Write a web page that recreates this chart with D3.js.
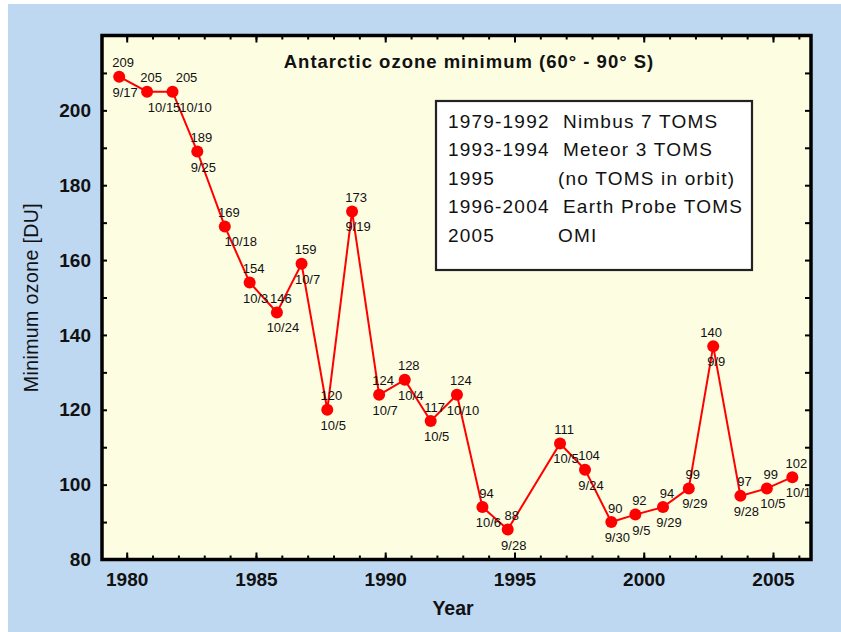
<!DOCTYPE html>
<html>
<head>
<meta charset="utf-8">
<script src="https://cdn.jsdelivr.net/npm/d3@7/dist/d3.min.js"></script>
<style>
  html, body { margin: 0; padding: 0; background: #ffffff; }
  svg { display: block; }
  text { font-family: "Liberation Sans", Arial, Helvetica, sans-serif; fill: #111; }
</style>
</head>
<body>
<svg id="chart" width="841" height="632"></svg>
<script>
// ---------------- data ----------------
const years = [1979, 1980, 1981, 1982, 1983, 1984, 1985, 1986, 1987, 1988, 1989, 1990,
               1991, 1992, 1993, 1994, 1996, 1997, 1998, 1999, 2000, 2001, 2002, 2003, 2004, 2005];
const dates = ["9/17", "10/15", "10/10", "9/25", "10/18", "10/3", "10/24", "10/7", "10/5", "9/19",
               "10/7", "10/4", "10/5", "10/10", "10/6", "9/28", "10/5", "9/24", "9/30", "9/5",
               "9/29", "9/29", "9/9", "9/28", "10/5", "10/1"];
const ozone = [209, 205, 205, 189, 169, 154, 146, 159, 120, 173, 124, 128, 117, 124, 94, 88,
               111, 104, 90, 92, 94, 99, 137, 97, 99, 102];
const valueLabels = ["209", "205", "205", "189", "169", "154", "146", "159", "120", "173", "124", "128",
                     "117", "124", "94", "88", "111", "104", "90", "92", "94", "99", "140", "97", "99", "102"];
const xTickYears = d3.range(1980, 2007);
const xLabelYears = [1980, 1985, 1990, 1995, 2000, 2005];
const yMinorTicks = d3.range(90, 220, 10);
const yLabelTicks = [80, 100, 120, 140, 160, 180, 200];
const legendPeriods = ["1979-1992", "1993-1994", "1995", "1996-2004", "2005"];
const legendInstruments = ["Nimbus 7 TOMS", "Meteor 3 TOMS", "(no TOMS in orbit)", "Earth Probe TOMS", "OMI"];
const titleText = "Antarctic ozone minimum (60\u00B0 - 90\u00B0 S)";
const xTitle = "Year";
const yTitle = "Minimum ozone [DU]";

// decimal year from the date of the minimum
function decimalYear(yr, md) {
  const [m, d] = md.split("/").map(Number);
  const dt = new Date(yr, m - 1, d);
  return yr + d3.timeDay.count(d3.timeYear(dt), dt) / 365;
}
const data = years.map((yr, i) => ({
  year: yr, date: dates[i], value: ozone[i], label: valueLabels[i],
  t: decimalYear(yr, dates[i])
}));

// ---------------- layout ----------------
const svg = d3.select("#chart");
const x = d3.scaleLinear().domain([1979.045, 2006.47]).range([102, 811]);
const y = d3.scaleLinear().domain([80, 220]).range([559.5, 35.5]);

const BLUE = "#bed8f2", YELLOW = "#fdfde1", RED = "#ff0000";

svg.append("rect").attr("x", 8).attr("y", 4).attr("width", 833).attr("height", 628).attr("fill", BLUE);
svg.append("rect")
  .attr("x", x.range()[0]).attr("y", y.range()[1])
  .attr("width", x.range()[1] - x.range()[0]).attr("height", y.range()[0] - y.range()[1])
  .attr("fill", YELLOW);

// legend box
const lg = svg.append("g");
lg.append("rect").attr("x", 436).attr("y", 101).attr("width", 316).attr("height", 169)
  .attr("fill", "#ffffff").attr("stroke", "#222").attr("stroke-width", 2.2);
legendPeriods.forEach((p, i) => {
  const by = 127.5 + i * 28.5;
  lg.append("text").attr("x", 448).attr("y", by).text(p)
    .style("font-size", "19px").style("letter-spacing", "1.2px");
  lg.append("text").attr("x", (i === 2 || i === 4) ? 558 : 563).attr("y", by).text(legendInstruments[i])
    .style("font-size", "19px").style("letter-spacing", "1.2px");
});

// title
svg.append("text").attr("x", 469).attr("y", 68).attr("text-anchor", "middle")
  .style("font-size", "18.5px").style("font-weight", "bold").style("letter-spacing", "1px")
  .text(titleText);

// line + markers
svg.append("path").datum(data)
  .attr("fill", "none").attr("stroke", RED).attr("stroke-width", 2)
  .attr("d", d3.line().x(d => x(d.t)).y(d => y(d.value)));
svg.append("g").selectAll("circle").data(data).join("circle")
  .attr("cx", d => x(d.t)).attr("cy", d => y(d.value)).attr("r", 6).attr("fill", RED);

// point labels (small nudges to mimic the original placement)
const valueNudge = {1981: 10, 2002: -6};
const dateNudge = {1980: 11, 1981: 17, 1983: 10, 2002: -3};
const lbl = svg.append("g").style("font-size", "13px");
lbl.selectAll("text.v").data(data).join("text").attr("class", "v")
  .attr("x", d => x(d.t) + 4 + (valueNudge[d.year] || 0))
  .attr("y", d => y(d.value) - 9.5)
  .attr("text-anchor", "middle").text(d => d.label);
lbl.selectAll("text.d").data(data).join("text").attr("class", "d")
  .attr("x", d => x(d.t) + 6 + (dateNudge[d.year] || 0))
  .attr("y", d => y(d.value) + 20)
  .attr("text-anchor", "middle").text(d => d.date);

// axes ticks
function styleAxis(g) {
  g.select(".domain").remove();
  g.selectAll(".tick line").attr("stroke", "#000").attr("stroke-width", 2);
  g.selectAll(".tick text").style("font-family", "'Liberation Sans', Arial, sans-serif")
    .style("font-size", "19px").style("font-weight", "bold").attr("fill", "#111");
}
const y0 = y(80), y1 = y(220), x0 = x.range()[0], x1 = x.range()[1];
// bottom
svg.append("g").attr("transform", `translate(0,${y0})`)
  .call(d3.axisBottom(x).tickValues(xTickYears).tickSize(-4).tickFormat("")).call(styleAxis);
svg.append("g").attr("transform", `translate(0,${y0})`)
  .call(d3.axisBottom(x).tickValues(xLabelYears).tickSize(-7).tickFormat("")).call(styleAxis);
svg.append("g").attr("transform", `translate(0,${y0})`)
  .call(d3.axisBottom(x).tickValues(xLabelYears).tickSize(0).tickPadding(13.5).tickFormat(d3.format("d")))
  .call(styleAxis);
// top
svg.append("g").attr("transform", `translate(0,${y1})`)
  .call(d3.axisTop(x).tickValues(xTickYears).tickSize(-4).tickFormat("")).call(styleAxis);
svg.append("g").attr("transform", `translate(0,${y1})`)
  .call(d3.axisTop(x).tickValues(xLabelYears).tickSize(-7).tickFormat("")).call(styleAxis);
// left
svg.append("g").attr("transform", `translate(${x0},0)`)
  .call(d3.axisLeft(y).tickValues(yMinorTicks).tickSize(-5).tickFormat("")).call(styleAxis);
svg.append("g").attr("transform", `translate(${x0},0)`)
  .call(d3.axisLeft(y).tickValues(yLabelTicks).tickSize(0).tickPadding(11).tickFormat(d3.format("d")))
  .call(styleAxis);
// right
svg.append("g").attr("transform", `translate(${x1},0)`)
  .call(d3.axisRight(y).tickValues(yMinorTicks).tickSize(-6).tickFormat("")).call(styleAxis);

// frame
svg.append("rect").attr("x", x0).attr("y", y1).attr("width", x1 - x0).attr("height", y0 - y1)
  .attr("fill", "none").attr("stroke", "#000").attr("stroke-width", 3.5);

// axis titles
svg.append("text").attr("x", 453).attr("y", 615).attr("text-anchor", "middle")
  .style("font-size", "19.5px").style("font-weight", "bold").text(xTitle);
svg.append("text").attr("transform", "translate(38,297.5) rotate(-90)").attr("text-anchor", "middle")
  .style("font-size", "19.5px").style("letter-spacing", "0.4px").text(yTitle);
</script>
</body>
</html>
